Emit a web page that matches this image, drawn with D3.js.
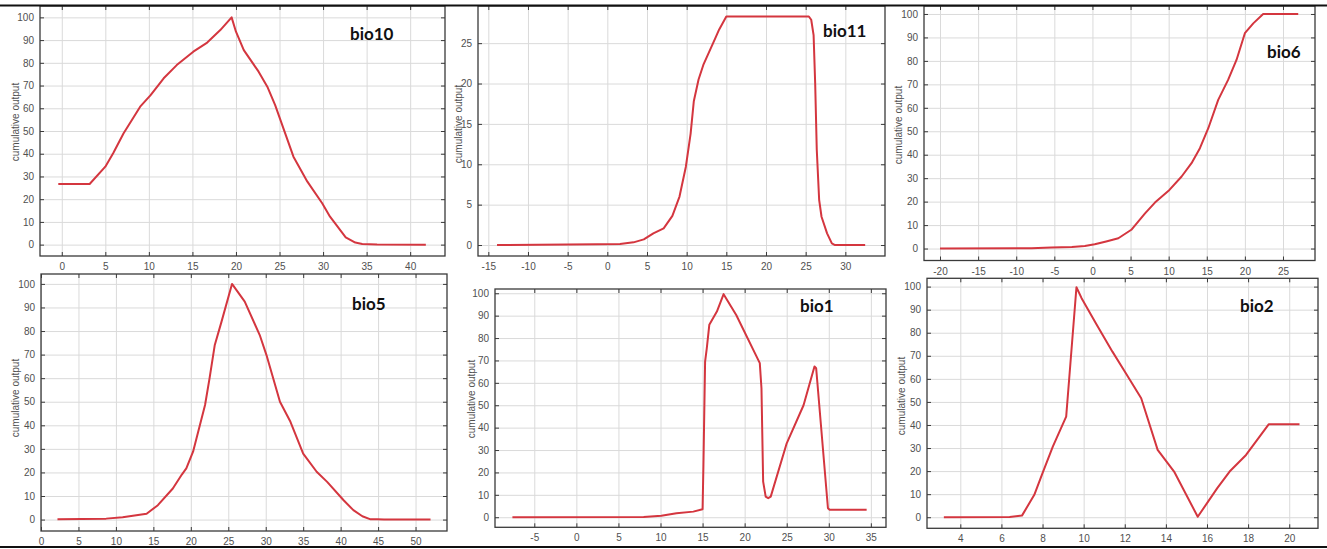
<!DOCTYPE html>
<html>
<head>
<meta charset="utf-8">
<script src="https://cdn.jsdelivr.net/npm/d3@7"></script>
<style>
  body { margin: 0; background: #fff; }
  svg { display: block; }
  .tick text { font-family: "Liberation Sans", Arial, sans-serif; font-size: 10px; fill: #505050; }
</style>
</head>
<body>
<div class="canvas"></div>
<script>
// response curves (x = variable value, y = cumulative output)
const bio10X = [-0.4, 3.2, 5.0, 5.9, 7.1, 9.0, 10.2, 11.7, 13.2, 15.1, 16.7, 18.2, 19.5, 20.0, 20.9, 22.6, 23.6, 24.5, 26.6, 28.2, 29.9, 30.8, 32.6, 33.7, 34.5, 36.2, 41.8];
const bio10Y = [26.7, 26.7, 34.3, 40.2, 49, 60.7, 65.8, 73.2, 79, 84.9, 88.9, 94.4, 100, 93.7, 85.6, 76.1, 69.5, 61.4, 38.7, 27.7, 18.2, 12.3, 3.2, 0.9, 0.3, 0.1, 0];

const bio11X = [-13.9, -1.3, 1.6, 3.3, 4.6, 5.8, 7.1, 8.2, 9.1, 9.9, 10.5, 10.9, 11.5, 12.1, 13.6, 14.1, 15.0, 25.4, 25.7, 26.0, 26.2, 26.4, 26.7, 27.0, 27.7, 28.3, 28.7, 32.5];
const bio11Y = [0, 0.08, 0.12, 0.33, 0.7, 1.45, 2.07, 3.6, 6.0, 9.7, 13.8, 17.8, 20.5, 22.3, 25.6, 26.7, 28.3, 28.3, 27.9, 26.0, 20, 11.8, 5.6, 3.5, 1.45, 0.2, 0, 0];

const bio6X = [-20, -8, -5.4, -2.7, -1, 0.3, 1.8, 3.4, 5.1, 6.9, 8.2, 10.1, 11.7, 13.0, 14.1, 15.2, 16.5, 17.8, 18.9, 20.0, 21.1, 22.4, 23.0, 27.0];
const bio6Y = [0, 0.1, 0.4, 0.7, 1.1, 1.8, 3.0, 4.4, 8.0, 15, 19.6, 25, 30.7, 36.4, 42.8, 51.3, 63.4, 71.9, 80.4, 91.8, 96, 100, 100, 100];

const bio5X = [2.2, 8.7, 10.9, 14.1, 15.6, 17.6, 18.8, 19.4, 20.3, 21.9, 22.5, 23.2, 24.1, 25.5, 27.2, 29.2, 30.1, 31.9, 33.3, 35.0, 36.8, 38.2, 40.4, 41.7, 42.9, 44.0, 44.9, 45.8, 52.0];
const bio5Y = [0.1, 0.4, 1.0, 2.5, 6.1, 13.2, 19.1, 21.7, 28.8, 48.6, 59.9, 74.1, 84.0, 100, 92.5, 78.3, 69.8, 50, 41.5, 28, 20.3, 16, 8.2, 4.0, 1.4, 0.1, 0.1, 0, 0];

const bio1X = [-7.6, 8.0, 10.1, 11.9, 13.9, 15.0, 15.1, 15.3, 15.5, 15.8, 16.7, 17.5, 19.0, 21.8, 22.0, 22.2, 22.5, 22.8, 23.1, 25.0, 27.0, 28.3, 28.5, 29.9, 30.1, 34.5];
const bio1Y = [0, 0.15, 0.7, 1.8, 2.5, 3.6, 23, 69.5, 75.4, 85.9, 91.8, 99.6, 90.3, 68.8, 57.6, 15.9, 9.2, 8.5, 9.2, 33, 50, 67.3, 66.5, 4.0, 3.3, 3.3];

const bio2X = [3.2, 6.4, 7.0, 7.6, 8.0, 8.5, 8.9, 9.15, 9.35, 9.65, 9.9, 10.6, 11.4, 12.0, 12.8, 13.6, 14.4, 15.55, 16.5, 17.1, 17.9, 19.0, 20.5];
const bio2Y = [0, 0.1, 0.7, 9.7, 19.1, 30.6, 38.6, 43.6, 66, 99.7, 95, 84, 71.8, 63.2, 51.6, 29.2, 19.8, 0.2, 12.6, 19.8, 27, 40.3, 40.3];

// tick values
const ticks0to40 = d3.range(0, 41, 5);
const ticksM15to30 = d3.range(-15, 31, 5);
const ticksM20to25 = d3.range(-20, 26, 5);
const ticks0to50 = d3.range(0, 51, 5);
const ticksM5to35 = d3.range(-5, 36, 5);
const ticks4to20 = d3.range(4, 21, 2);
const ticksPct = d3.range(0, 101, 10);
const ticks0to25 = d3.range(0, 26, 5);

// panel layout (pixel boxes) kept apart from the data
const panels = [
  {name: 'bio10', xs: bio10X, ys: bio10Y, box: [40, 445, 6, 256], xd: [-2.5, 44], yd: [-5, 105], xt: ticks0to40, yt: ticksPct, title: [350, 40], lab: [15, 122]},
  {name: 'bio11', xs: bio11X, ys: bio11Y, box: [478, 885, 6, 256], xd: [-16.3, 35], yd: [-1.36, 29.6], xt: ticksM15to30, yt: ticks0to25, title: [823, 37], lab: [458, 124]},
  {name: 'bio6', xs: bio6X, ys: bio6Y, box: [924, 1315, 6, 260.5], xd: [-22.1, 29.2], yd: [-5.1, 103.4], xt: ticksM20to25, yt: ticksPct, title: [1267, 58], lab: [898, 125]},
  {name: 'bio5', xs: bio5X, ys: bio5Y, box: [41, 447, 274, 531], xd: [0, 54.2], yd: [-4.85, 104.2], xt: ticks0to50, yt: ticksPct, title: [352, 310], lab: [15, 398]},
  {name: 'bio1', xs: bio1X, ys: bio1Y, box: [495, 886, 289, 527.3], xd: [-9.67, 36.8], yd: [-4.5, 101.9], xt: ticksM5to35, yt: ticksPct, title: [800, 312], lab: [471, 399]},
  {name: 'bio2', xs: bio2X, ys: bio2Y, box: [927, 1318, 278.3, 528.3], xd: [2.38, 21.4], yd: [-4.8, 103.6], xt: ticks4to20, yt: ticksPct, title: [1240, 312], lab: [901, 396]}
];

// plain hyphen for negatives, like the source figure
const fmt = d => String(d);

const svg = d3.select('.canvas')
  .append('svg')
    .attr('width', 1327)
    .attr('height', 549);

svg.append('rect').attr('width', 1327).attr('height', 549).attr('fill', '#fff');

panels.forEach((p, i) => {
  const [x0, x1, y0, y1] = p.box;
  const x = d3.scaleLinear().domain(p.xd).range([x0, x1]);
  const y = d3.scaleLinear().domain(p.yd).range([y1, y0]);
  const g = svg.append('g');

  // clip for the curve
  const clipId = 'clip' + i;
  svg.append('clipPath').attr('id', clipId)
    .append('rect').attr('x', x0).attr('y', y0).attr('width', x1 - x0).attr('height', y1 - y0);

  // grid
  g.append('g')
    .attr('transform', `translate(0, ${y1})`)
    .call(d3.axisBottom(x).tickValues(p.xt).tickSize(-(y1 - y0)).tickFormat(''))
    .call(a => a.select('.domain').remove())
    .call(a => a.selectAll('line').attr('stroke', '#dadada'));
  g.append('g')
    .attr('transform', `translate(${x0}, 0)`)
    .call(d3.axisLeft(y).tickValues(p.yt).tickSize(-(x1 - x0)).tickFormat(''))
    .call(a => a.select('.domain').remove())
    .call(a => a.selectAll('line').attr('stroke', '#dadada'));

  // the curve
  const pts = p.xs.map((v, k) => [v, p.ys[k]]);
  g.append('path')
    .datum(pts)
    .attr('clip-path', `url(#${clipId})`)
    .attr('fill', 'none')
    .attr('stroke', '#d4363f')
    .attr('stroke-width', 2)
    .attr('stroke-linejoin', 'round')
    .attr('d', d3.line().x(d => x(d[0])).y(d => y(d[1])));

  // frame axes, ticks pointing inward
  const style = a => {
    a.select('.domain').remove();
    a.selectAll('line').attr('stroke', '#3a3a3a');
  };
  g.append('g')
    .attr('transform', `translate(0, ${y1})`)
    .call(d3.axisBottom(x).tickValues(p.xt).tickSizeInner(-4).tickSizeOuter(0).tickPadding(7).tickFormat(fmt))
    .call(style);
  g.append('g')
    .attr('transform', `translate(0, ${y0})`)
    .call(d3.axisTop(x).tickValues(p.xt).tickSizeInner(-4).tickSizeOuter(0).tickFormat(''))
    .call(style);
  g.append('g')
    .attr('transform', `translate(${x0}, 0)`)
    .call(d3.axisLeft(y).tickValues(p.yt).tickSizeInner(-4).tickSizeOuter(0).tickPadding(6).tickFormat(fmt))
    .call(style);
  g.append('g')
    .attr('transform', `translate(${x1}, 0)`)
    .call(d3.axisRight(y).tickValues(p.yt).tickSizeInner(-4).tickSizeOuter(0).tickFormat(''))
    .call(style);

  g.append('rect')
    .attr('x', x0).attr('y', y0)
    .attr('width', x1 - x0).attr('height', y1 - y0)
    .attr('fill', 'none')
    .attr('stroke', '#3a3a3a')
    .attr('stroke-width', 1.3);

  // y label
  g.append('text')
    .attr('transform', `translate(${p.lab[0]}, ${p.lab[1]}) rotate(-90)`)
    .attr('text-anchor', 'middle')
    .attr('dy', '0.35em')
    .attr('font-family', 'Liberation Sans, Arial, sans-serif')
    .attr('font-size', 10)
    .attr('fill', '#505050')
    .text('cumulative output');

  // panel name
  g.append('text')
    .attr('x', p.title[0])
    .attr('y', p.title[1])
    .attr('font-family', 'Lato, sans-serif')
    .attr('font-weight', 700)
    .attr('font-size', 17)
    .attr('fill', '#111')
    .text(p.name);
});

// black rules at top and bottom of the figure
svg.append('rect').attr('x', 0).attr('y', 0).attr('width', 1327).attr('height', 5).attr('fill', '#fff');
svg.append('line').attr('x1', 0).attr('x2', 1327).attr('y1', 5.5).attr('y2', 5.5).attr('stroke', '#111').attr('stroke-width', 2);
svg.append('line').attr('x1', 0).attr('x2', 1327).attr('y1', 547).attr('y2', 547).attr('stroke', '#111').attr('stroke-width', 2);
</script>
</body>
</html>
